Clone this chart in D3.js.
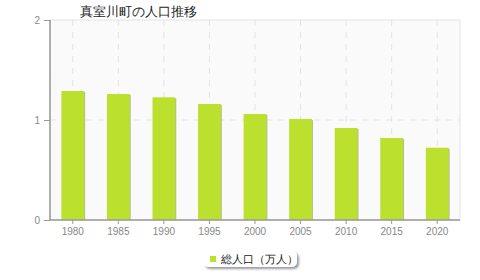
<!DOCTYPE html>
<html>
<head>
<meta charset="utf-8">
<script src="https://cdn.jsdelivr.net/npm/d3@7"></script>
<style>
  body { margin: 0; background: #fff; }
  svg { font-family: "DejaVu Sans", sans-serif; }
</style>
</head>
<body>
<svg id="chart" width="480" height="280"></svg>
<script>
const title = '真室川町の人口推移'
const years = ['1980', '1985', '1990', '1995', '2000', '2005', '2010', '2015', '2020']
const population = [1.29, 1.26, 1.227, 1.16, 1.06, 1.01, 0.92, 0.82, 0.723]
const yTicks = [0, 1, 2]
const seriesName = '総人口（万人）'

const margin = { top: 20, right: 20, bottom: 60, left: 50 }
const width = 480
const height = 280
const svg = d3.select('#chart')

const x = d3.scaleBand()
  .domain(years)
  .range([margin.left, width - margin.right])
  .paddingInner(0.5)
  .paddingOuter(0.25)

const y = d3.scaleLinear()
  .domain([0, 2])
  .range([height - margin.bottom, margin.top])

const defs = svg.append('defs')
const f = defs.append('filter').attr('id', 'shadow').attr('x', '-20%').attr('y', '-20%').attr('width', '150%').attr('height', '180%')
f.append('feDropShadow').attr('dx', 2).attr('dy', 2).attr('stdDeviation', 1.2).attr('flood-color', '#556').attr('flood-opacity', 0.6)

// plot background
svg.append('rect')
  .attr('x', margin.left)
  .attr('y', margin.top)
  .attr('width', width - margin.left - margin.right)
  .attr('height', height - margin.top - margin.bottom)
  .attr('fill', '#fafafa')
  .attr('stroke', '#e4e4e4')

// grid
svg.append('g')
  .selectAll('line')
  .data(years)
  .join('line')
  .attr('x1', d => x(d) + x.bandwidth() / 2)
  .attr('x2', d => x(d) + x.bandwidth() / 2)
  .attr('y1', margin.top)
  .attr('y2', height - margin.bottom)
  .attr('stroke', '#e2e2e2')
  .attr('stroke-dasharray', '6,6')

svg.append('g')
  .selectAll('line')
  .data(yTicks.filter(d => d > 0 && d < 2))
  .join('line')
  .attr('x1', margin.left)
  .attr('x2', width - margin.right)
  .attr('y1', d => y(d))
  .attr('y2', d => y(d))
  .attr('stroke', '#e2e2e2')
  .attr('stroke-dasharray', '6,6')

// bar shadows
svg.append('g')
  .selectAll('rect')
  .data(years)
  .join('rect')
  .attr('x', d => x(d) + 1)
  .attr('y', (d, i) => y(population[i]) + 1)
  .attr('width', x.bandwidth())
  .attr('height', (d, i) => y(0) - y(population[i]) - 1)
  .attr('fill', '#b3c08a')

// bars
svg.append('g')
  .selectAll('rect')
  .data(years)
  .join('rect')
  .attr('x', d => x(d))
  .attr('y', (d, i) => y(population[i]))
  .attr('width', x.bandwidth())
  .attr('height', (d, i) => y(0) - y(population[i]))
  .attr('fill', '#bce02e')

// axes
const yAxis = svg.append('g')
  .attr('transform', `translate(${margin.left},0)`)
  .call(d3.axisLeft(y).tickValues(yTicks).tickFormat(d3.format('d')).tickSize(6).tickPadding(4))
const xAxis = svg.append('g')
  .attr('transform', `translate(0,${height - margin.bottom})`)
  .call(d3.axisBottom(x).tickSize(4).tickPadding(4))

for (const ax of [yAxis, xAxis]) {
  ax.select('.domain').attr('stroke', '#999').attr('stroke-width', 1.5)
  ax.selectAll('.tick line').attr('stroke', '#999')
  ax.selectAll('.tick text').attr('fill', '#888').attr('font-size', 10)
}
xAxis.select('.domain').attr('d', `M${margin.left},0H${width - margin.right}`)
yAxis.select('.domain').attr('d', `M0,${margin.top}V${height - margin.bottom}`)

// title
svg.append('text')
  .attr('x', 80)
  .attr('y', 16)
  .attr('font-size', 12.8)
  .attr('fill', '#222')
  .text(title)

// legend
const legend = svg.append('g')
legend.append('rect')
  .attr('x', 203)
  .attr('y', 251)
  .attr('width', 94)
  .attr('height', 16)
  .attr('rx', 5)
  .attr('fill', '#fff')
  .attr('filter', 'url(#shadow)')
legend.append('rect')
  .attr('x', 210)
  .attr('y', 256)
  .attr('width', 6)
  .attr('height', 6)
  .attr('fill', '#bce02e')
legend.append('text')
  .attr('x', 221)
  .attr('y', 263)
  .attr('font-size', 11)
  .attr('fill', '#222')
  .text(seriesName)
</script>
</body>
</html>
